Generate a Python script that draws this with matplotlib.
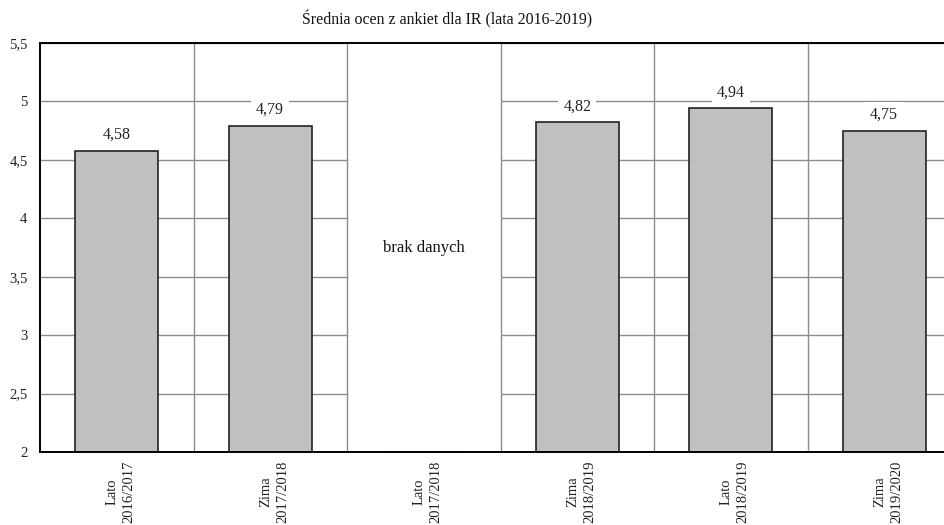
import matplotlib
matplotlib.use("Agg")
import matplotlib.pyplot as plt
import matplotlib.transforms as mtransforms
import numpy as np

title = "Średnia ocen z ankiet dla IR (lata 2016-2019)"
categories = ["Lato\n2016/2017", "Zima\n2017/2018", "Lato\n2017/2018",
              "Zima\n2018/2019", "Lato\n2018/2019", "Zima\n2019/2020"]
values = [4.58, 4.79, None, 4.82, 4.94, 4.75]
missing_text = "brak danych"
y_min, y_max, y_step = 2.0, 5.5, 0.5

plt.rcParams['font.family'] = ['Liberation Serif', 'DejaVu Serif']

fig = plt.figure(figsize=(9.44, 5.25), dpi=100)
ax = fig.add_axes([40/944, 1-452/525, 921/944, (452-43)/525])

n = len(categories)
x = np.arange(n)
ax.set_xlim(-0.5, n-0.5)
ax.set_ylim(y_min, y_max)

yt = np.arange(y_min, y_max + 1e-9, y_step)
ax.set_yticks(yt)
ax.set_yticklabels([f"{v:g}".replace('.', ',') for v in yt], fontsize=10.5, color='#222222')
ax.tick_params(axis='y', length=0, pad=9)

ax.set_xticks(x)
ax.set_xticklabels(categories, rotation=90, fontsize=10.5, va='top', ha='center',
                   multialignment='center', linespacing=1.35, color='#222222')
ax.tick_params(axis='x', length=0, pad=6)
shift = mtransforms.ScaledTranslation(4/100, 0, fig.dpi_scale_trans)
for lab in ax.get_xticklabels():
    lab.set_transform(lab.get_transform() + shift)

# grid
for v in yt:
    ax.axhline(v, color='#8c8c8c', lw=1.0, zorder=1)
for i, v in enumerate(values):
    if v is None:
        ax.axvspan(i-0.5, i+0.5, color='white', zorder=1.5, lw=0)
        ax.text(i, 3.75, missing_text, ha='center', va='center', fontsize=12,
                color='#111111', zorder=5)
for b in np.arange(0.5, n-0.5, 1.0):
    ax.axvline(b, color='#8c8c8c', lw=1.0, zorder=2)

vals = [v if v is not None else np.nan for v in values]
ax.bar(x, [v - y_min if not np.isnan(v) else 0 for v in vals], bottom=y_min,
       width=0.54, color='#c0c0c0', edgecolor='#222222', linewidth=1.2, zorder=3)

for i, v in enumerate(values):
    if v is None:
        continue
    ax.annotate(f"{v:.2f}".replace('.', ','), (i, v), xytext=(0, 16),
                textcoords='offset pixels', ha='center', va='center', fontsize=11.5,
                color='#222222', zorder=5,
                bbox=dict(boxstyle='square,pad=0.3', fc='white', ec='none'))

for s in ['left', 'bottom', 'top']:
    ax.spines[s].set_color('black')
    ax.spines[s].set_linewidth(1.4)
    ax.spines[s].set_zorder(6)
ax.spines['right'].set_visible(False)

fig.text(447/944, 1-19/525, title, ha='center', va='center', fontsize=11.4, color='#111111')

fig.savefig("out.png", dpi=100)
